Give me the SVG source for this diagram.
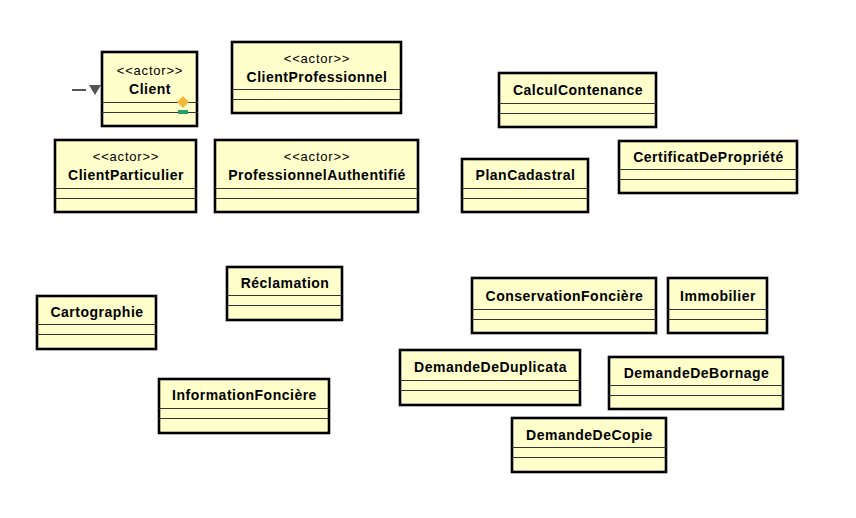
<svg xmlns="http://www.w3.org/2000/svg" width="856" height="518" viewBox="0 0 856 518">
<style>
.box{fill:#ffffcc;stroke:#000;stroke-width:2.6}
.sep{stroke:#333;stroke-width:1}
.st{font-family:"Liberation Sans",Arial,sans-serif;font-size:13px;letter-spacing:0.8px;fill:#000;text-anchor:middle}
.nm{font-family:"Liberation Sans",Arial,sans-serif;font-size:14px;letter-spacing:0.5px;font-weight:bold;fill:#000;text-anchor:middle}
</style>
<rect width="856" height="518" fill="#fff"/>
<g id="connectors">
<line x1="72" y1="90" x2="86" y2="90" stroke="#555" stroke-width="2"/>
<polygon points="89,85 101,85 95,95" fill="#555"/>
</g>
<g id="Client">
<rect class="box" x="102" y="52" width="95" height="74"/>
<line class="sep" x1="102" y1="102.5" x2="198" y2="102.5"/>
<line class="sep" x1="102" y1="112.5" x2="198" y2="112.5"/>
<text class="st" x="150" y="75">&lt;&lt;actor&gt;&gt;</text>
<text class="nm" x="150" y="94">Client</text>
<polygon points="183,96 189,102 183,108 177,102" fill="#f5b93a"/>
<rect x="178" y="110" width="10" height="4" fill="#2a9d6a"/>
</g>
<g id="ClientProfessionnel">
<rect class="box" x="232" y="42" width="169" height="71"/>
<line class="sep" x1="232" y1="89.5" x2="401" y2="89.5"/>
<line class="sep" x1="232" y1="99.5" x2="401" y2="99.5"/>
<text class="st" x="317" y="63">&lt;&lt;actor&gt;&gt;</text>
<text class="nm" x="317" y="82">ClientProfessionnel</text>
</g>
<g id="ClientParticulier">
<rect class="box" x="55" y="140" width="141" height="72"/>
<line class="sep" x1="55" y1="188.5" x2="196" y2="188.5"/>
<line class="sep" x1="55" y1="198.5" x2="196" y2="198.5"/>
<text class="st" x="126" y="161">&lt;&lt;actor&gt;&gt;</text>
<text class="nm" x="126" y="180">ClientParticulier</text>
</g>
<g id="ProfessionnelAuthentifie">
<rect class="box" x="215" y="140" width="203" height="72"/>
<line class="sep" x1="215" y1="188.5" x2="418" y2="188.5"/>
<line class="sep" x1="215" y1="198.5" x2="418" y2="198.5"/>
<text class="st" x="317" y="161">&lt;&lt;actor&gt;&gt;</text>
<text class="nm" x="317" y="180">ProfessionnelAuthentifié</text>
</g>
<g id="CalculContenance">
<rect class="box" x="499" y="73" width="157" height="54"/>
<line class="sep" x1="499" y1="103.5" x2="656" y2="103.5"/>
<line class="sep" x1="499" y1="113.5" x2="656" y2="113.5"/>
<text class="nm" x="578" y="95">CalculContenance</text>
</g>
<g id="PlanCadastral">
<rect class="box" x="462" y="159" width="126" height="53"/>
<line class="sep" x1="462" y1="188.5" x2="588" y2="188.5"/>
<line class="sep" x1="462" y1="198.5" x2="588" y2="198.5"/>
<text class="nm" x="525.5" y="180">PlanCadastral</text>
</g>
<g id="CertificatDePropriete">
<rect class="box" x="619" y="141" width="178" height="52"/>
<line class="sep" x1="619" y1="169.5" x2="797" y2="169.5"/>
<line class="sep" x1="619" y1="179.5" x2="797" y2="179.5"/>
<text class="nm" x="708.5" y="162">CertificatDePropriété</text>
</g>
<g id="Cartographie">
<rect class="box" x="37" y="296" width="119" height="53"/>
<line class="sep" x1="37" y1="324.5" x2="156" y2="324.5"/>
<line class="sep" x1="37" y1="334.5" x2="156" y2="334.5"/>
<text class="nm" x="97" y="317">Cartographie</text>
</g>
<g id="Reclamation">
<rect class="box" x="227" y="267" width="115" height="53"/>
<line class="sep" x1="227" y1="295.5" x2="342" y2="295.5"/>
<line class="sep" x1="227" y1="305.5" x2="342" y2="305.5"/>
<text class="nm" x="285" y="288">Réclamation</text>
</g>
<g id="InformationFonciere">
<rect class="box" x="159" y="379" width="170" height="54"/>
<line class="sep" x1="159" y1="408.5" x2="329" y2="408.5"/>
<line class="sep" x1="159" y1="418.5" x2="329" y2="418.5"/>
<text class="nm" x="244.5" y="400">InformationFoncière</text>
</g>
<g id="ConservationFonciere">
<rect class="box" x="472" y="278" width="184" height="55"/>
<line class="sep" x1="472" y1="309.5" x2="656" y2="309.5"/>
<line class="sep" x1="472" y1="319.5" x2="656" y2="319.5"/>
<text class="nm" x="564.5" y="301">ConservationFoncière</text>
</g>
<g id="Immobilier">
<rect class="box" x="668" y="278" width="99" height="55"/>
<line class="sep" x1="668" y1="309.5" x2="767" y2="309.5"/>
<line class="sep" x1="668" y1="319.5" x2="767" y2="319.5"/>
<text class="nm" x="718" y="301">Immobilier</text>
</g>
<g id="DemandeDeDuplicata">
<rect class="box" x="400" y="350" width="180" height="55"/>
<line class="sep" x1="400" y1="380.5" x2="580" y2="380.5"/>
<line class="sep" x1="400" y1="390.5" x2="580" y2="390.5"/>
<text class="nm" x="490.5" y="372">DemandeDeDuplicata</text>
</g>
<g id="DemandeDeBornage">
<rect class="box" x="609" y="357" width="174" height="52"/>
<line class="sep" x1="609" y1="385.5" x2="783" y2="385.5"/>
<line class="sep" x1="609" y1="395.5" x2="783" y2="395.5"/>
<text class="nm" x="696.5" y="378">DemandeDeBornage</text>
</g>
<g id="DemandeDeCopie">
<rect class="box" x="512" y="418" width="154" height="54"/>
<line class="sep" x1="512" y1="447.5" x2="666" y2="447.5"/>
<line class="sep" x1="512" y1="457.5" x2="666" y2="457.5"/>
<text class="nm" x="589.5" y="440">DemandeDeCopie</text>
</g>
</svg>
